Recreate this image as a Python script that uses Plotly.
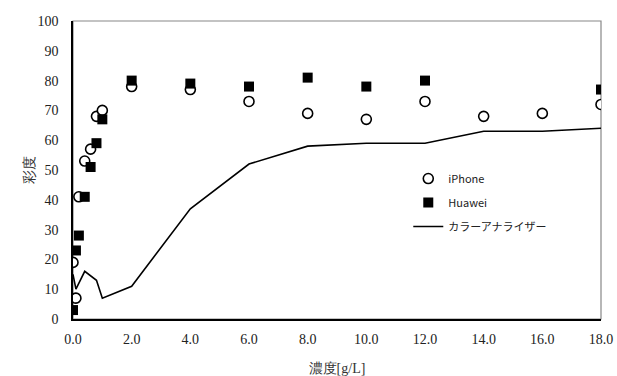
import plotly.graph_objects as go

# Data
x_iphone = [0, 0.1, 0.2, 0.4, 0.6, 0.8, 1.0, 2, 4, 6, 8, 10, 12, 14, 16, 18]
y_iphone = [19, 7, 41, 53, 57, 68, 70, 78, 77, 73, 69, 67, 73, 68, 69, 72]

x_huawei = [0, 0.1, 0.2, 0.4, 0.6, 0.8, 1.0, 2, 4, 6, 8, 10, 12, 18]
y_huawei = [3, 23, 28, 41, 51, 59, 67, 80, 79, 78, 81, 78, 80, 77]

x_analyzer = [0, 0.1, 0.4, 0.8, 1.0, 2, 4, 6, 8, 10, 12, 14, 16, 18]
y_analyzer = [15, 10, 16, 13, 7, 11, 37, 52, 58, 59, 59, 63, 63, 64]

x_ticks = [0, 2, 4, 6, 8, 10, 12, 14, 16, 18]
x_ticktext = ["0.0", "2.0", "4.0", "6.0", "8.0", "10.0", "12.0", "14.0", "16.0", "18.0"]
y_ticks = [0, 10, 20, 30, 40, 50, 60, 70, 80, 90, 100]
y_ticktext = ["0", "10", "20", "30", "40", "50", "60", "70", "80", "90", "100"]

serif = "Times New Roman, Liberation Serif, DejaVu Serif, serif"
sans = "Noto Sans CJK JP"

fig = go.Figure()
fig.add_trace(go.Scatter(
    x=x_analyzer, y=y_analyzer, mode="lines", name="カラーアナライザー",
    line=dict(color="black", width=1.6), legendrank=3, legendgroup="c"))
fig.add_trace(go.Scatter(
    x=x_iphone, y=y_iphone, mode="markers", name="iPhone",
    marker=dict(symbol="circle", size=10, color="white",
                line=dict(color="black", width=1.6)), legendrank=1, legendgroup="a"))
fig.add_trace(go.Scatter(
    x=x_huawei, y=y_huawei, mode="markers", name="Huawei",
    marker=dict(symbol="square", size=10, color="black",
                line=dict(color="black", width=0)), legendrank=2, legendgroup="b"))

# gray frame (top/right)
fig.add_shape(type="rect", xref="paper", yref="paper", x0=0, y0=0, x1=1, y1=1,
              line=dict(color="#888888", width=1.2), layer="below")

fig.update_layout(
    width=617, height=376,
    margin=dict(l=73, r=16, t=21, b=57),
    font=dict(family=serif),
    plot_bgcolor="white", paper_bgcolor="white",
    showlegend=True,
    legend=dict(x=0.635, y=0.52, xanchor="left", yanchor="top",
                font=dict(family=sans, size=11, color="#222222"),
                bgcolor="rgba(0,0,0,0)", tracegroupgap=5,
                itemwidth=30),
    xaxis=dict(range=[0, 18], tickvals=x_ticks, ticktext=x_ticktext,
               showgrid=False, zeroline=False, showline=True, automargin=False,
               linecolor="black", linewidth=1.5, ticks="",
               tickfont=dict(family=serif, size=14, color="#222222"),
               ticklabelstandoff=6, ticklabeloverflow="allow",
               title=dict(text="濃度[g/L]", font=dict(family=serif, size=14, color="#333333"),
                          standoff=20)),
    yaxis=dict(range=[0, 100], tickvals=y_ticks, ticktext=y_ticktext,
               showgrid=False, zeroline=False, showline=True, automargin=False,
               linecolor="black", linewidth=1.5, ticks="",
               tickfont=dict(family=serif, size=14, color="#222222"),
               ticklabelstandoff=10,
               title=dict(text="彩度", font=dict(family=serif, size=14, color="#333333"),
                          standoff=0)),
)

fig.write_html("out.html")
